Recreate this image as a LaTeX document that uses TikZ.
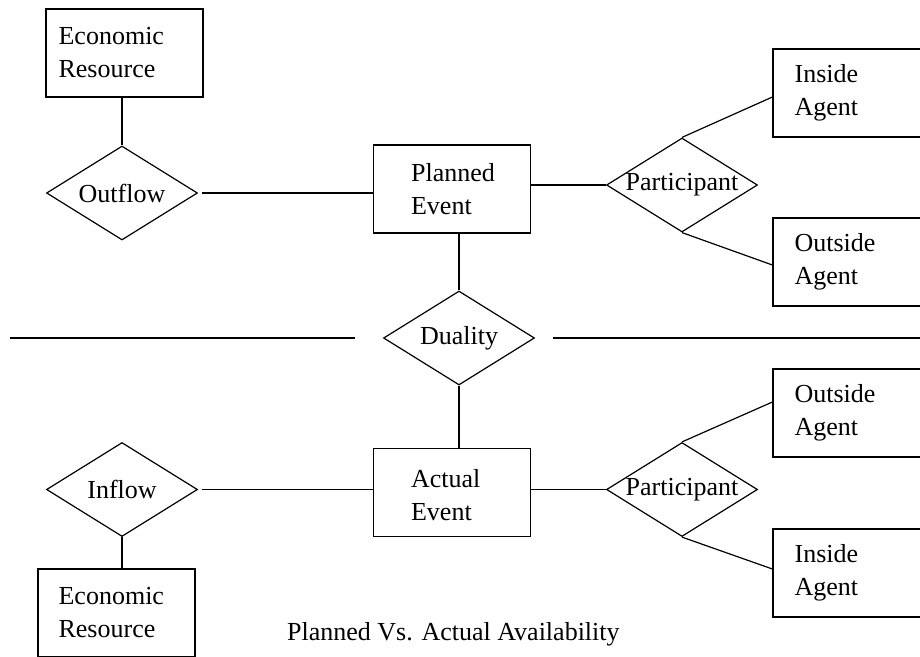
\documentclass[tikz,border=0pt]{standalone}
\usepackage{fontspec}
\setmainfont{Liberation Serif}
\usetikzlibrary{shapes.geometric}
\begin{document}
\begin{tikzpicture}[x=1pt,y=-1pt,
  every node/.style={font=\fontsize{26}{33}\selectfont},
  entity/.style={draw, line width=1.2pt, rectangle, minimum width=157pt, minimum height=88pt, inner sep=0pt},
  relation/.style={draw, line width=1.2pt, diamond, minimum width=151pt, minimum height=94pt, inner sep=0pt},
  lbl/.style={align=left, inner sep=0pt, anchor=west},
  link/.style={line width=1.2pt}]
\path[use as bounding box, clip] (0,0) rectangle (920,656);

% entities (rectangles) with their left-aligned captions
\node[entity] (er1) at (124.5,53) {};
\node[lbl] (er1t) at ([xshift=13pt]er1.west) {Economic\\Resource};
\node[entity] (pe) at (452,189) {};
\node[lbl] (pet) at ([xshift=38pt]pe.west) {Planned\\Event};
\node[entity] (ia1) at (851.5,93) {};
\node[lbl] (ia1t) at ([xshift=22pt]ia1.west) {Inside\\Agent};
\node[entity] (oa1) at (851.5,262) {};
\node[lbl] (oa1t) at ([xshift=22pt]oa1.west) {Outside\\Agent};
\node[entity] (ae) at (452,492.5) {};
\node[lbl] (aet) at ([xshift=38pt,yshift=-3pt]ae.west) {Actual\\Event};
\node[entity] (er2) at (116.5,613) {};
\node[lbl] (er2t) at ([xshift=21pt]er2.west) {Economic\\Resource};
\node[entity] (oa2) at (851.5,413) {};
\node[lbl] (oa2t) at ([xshift=22pt]oa2.west) {Outside\\Agent};
\node[entity] (ia2) at (851.5,573) {};
\node[lbl] (ia2t) at ([xshift=22pt]ia2.west) {Inside\\Agent};

% relationships (diamonds)
\node[relation, label=center:Outflow] (of) at (122,193) {};
\node[relation, label=center:Participant] (pt1) at (682,185) {};
\node[relation, label=center:Duality] (du) at (459,338) {};
\node[relation, label=center:Inflow] (inf) at (122,489.5) {};
\node[relation, label=center:Participant] (pt2) at (682,489.5) {};

% separator through the duality relationship
\coordinate (sepL0) at (10,338);
\coordinate (sepL1) at (355,338);
\coordinate (sepR0) at (553,338);
\coordinate (sepR1) at (925,338);
\draw[link] (sepL0) -- (sepL1);
\draw[link] (sepR0) -- (sepR1);

% connectors
\draw[link] (of.north) -- (of.north |- er1.south);
\draw[link, shorten <=4pt] (of.east) -- (of.east -| pe.west);
\draw[link] (pt1.west) -- (pt1.west -| pe.east);
\draw[link] (pt1.north) -- ([yshift=-4pt]ia1.west);
\draw[link] (pt1.south) -- ([yshift=-3pt]oa1.west);
\draw[link] (du.north) -- (du.north |- pe.south);
\draw[link] (du.south) -- (du.south |- ae.north);
\draw[link, shorten <=4pt] (inf.east) -- (inf.east -| ae.west);
\draw[link] (inf.south) -- (inf.south |- er2.north);
\draw[link] (pt2.west) -- (pt2.west -| ae.east);
\draw[link] (pt2.north) -- ([yshift=11pt]oa2.west);
\draw[link] (pt2.south) -- ([yshift=4pt]ia2.west);

% caption
\node[inner sep=0pt, anchor=base west] (cap) at (287,640) {Planned Vs. Actual Availability};
\end{tikzpicture}
\end{document}
